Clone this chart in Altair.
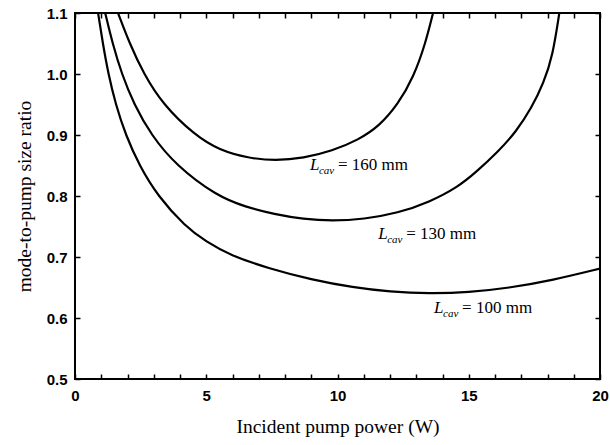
import altair as alt
import pandas as pd

# Curve samples (x = incident pump power W, y = size ratio)
x100 = [0.88, 1.06, 1.27, 1.55, 1.93, 2.45, 3.15, 4.2, 5.0, 5.9, 7.4, 9.0, 10.6, 12.0, 13.5, 15.0, 16.5, 18.2, 20.0]
y100 = [1.10, 1.05, 1.00, 0.95, 0.90, 0.85, 0.80, 0.75, 0.725, 0.703, 0.681, 0.663, 0.650, 0.643, 0.640, 0.642, 0.649, 0.662, 0.681]

x130 = [1.15, 1.43, 1.78, 2.25, 2.9, 3.85, 5.4, 6.5, 7.6, 8.7, 9.8, 11.0, 12.3, 13.5, 14.6, 15.3, 16.1, 16.8, 17.4, 17.85, 18.2, 18.45]
y130 = [1.10, 1.05, 1.00, 0.95, 0.90, 0.85, 0.80, 0.782, 0.770, 0.762, 0.759, 0.762, 0.772, 0.790, 0.815, 0.840, 0.872, 0.905, 0.945, 0.985, 1.03, 1.10]

x160 = [1.64, 2.08, 2.62, 3.35, 4.55, 5.5, 6.6, 7.65, 8.7, 9.8, 10.8, 11.6, 12.3, 12.9, 13.35, 13.64]
y160 = [1.10, 1.05, 1.00, 0.95, 0.90, 0.875, 0.862, 0.858, 0.862, 0.874, 0.892, 0.915, 0.950, 0.995, 1.05, 1.10]

lengths = ["100", "130", "160"]
label_x = [13.68, 11.55, 8.95]
label_y = [0.608, 0.729, 0.843]

x_ticks = list(range(0, 21))
y_ticks = [0.5, 0.6, 0.7, 0.8, 0.9, 1.0, 1.1]

rows = []
for name, xs, ys in [("100", x100, y100), ("130", x130, y130), ("160", x160, y160)]:
    for xv, yv in zip(xs, ys):
        rows.append({"L": name, "x": xv, "y": yv})
curves = pd.DataFrame(rows)

labels = pd.DataFrame({
    "L": lengths,
    "x": label_x,
    "y": label_y,
    "txt": ["= " + v + " mm" for v in lengths],
})

xscale = alt.Scale(domain=[0, 20], nice=False, zero=False)
yscale = alt.Scale(domain=[0.5, 1.1], nice=False, zero=False)

tick_in = {"expr": "-5"}

x_axis = alt.Axis(
    values=x_ticks,
    labelExpr="datum.value % 5 === 0 ? datum.label : ''",
    labelFont="Liberation Sans", labelFontWeight="bold", labelFontSize=15,
    labelColor="black", labelPadding=14, labelFlush=False,
    tickSize=tick_in, tickColor="black", tickWidth=1.5,
    domain=False, grid=False,
    title="Incident pump power (W)", titleFont="Liberation Serif",
    titleFontWeight="normal", titleFontSize=19.5, titleColor="black", titlePadding=14,
)
y_axis = alt.Axis(
    values=y_ticks, format=".1f",
    labelFont="Liberation Sans", labelFontWeight="bold", labelFontSize=15,
    labelColor="black", labelPadding=13, labelFlush=False,
    tickSize=tick_in, tickColor="black", tickWidth=1.5,
    domain=False, grid=False,
    title="mode-to-pump size ratio", titleFont="Liberation Serif",
    titleFontWeight="normal", titleFontSize=19.5, titleColor="black", titlePadding=12,
)
x_top = alt.Axis(orient="top", values=x_ticks, labels=False, tickSize=tick_in,
                 tickColor="black", tickWidth=1.5, domain=False, grid=False, title=None)
y_right = alt.Axis(orient="right", values=y_ticks, labels=False, tickSize=tick_in,
                   tickColor="black", tickWidth=1.5, domain=False, grid=False, title=None)

lines = alt.Chart(curves).mark_line(
    color="black", strokeWidth=2.2, clip=True, interpolate="basis"
).encode(
    x=alt.X("x:Q", scale=xscale, axis=x_axis),
    y=alt.Y("y:Q", scale=yscale, axis=y_axis),
    detail="L:N",
)

frame_axes = alt.Chart(curves).mark_point(opacity=0).encode(
    x=alt.X("x:Q", scale=xscale, axis=x_top),
    y=alt.Y("y:Q", scale=yscale, axis=y_right),
)

base = alt.Chart(labels).encode(
    x=alt.X("x:Q", scale=xscale, axis=None),
    y=alt.Y("y:Q", scale=yscale, axis=None),
)
t_L = base.mark_text(text="L", font="Liberation Serif", fontStyle="italic",
                     fontSize=17, align="left", baseline="alphabetic", color="black")
t_sub = base.mark_text(text="cav", font="Liberation Serif", fontStyle="italic",
                       fontSize=11, align="left", baseline="alphabetic", color="black",
                       dx=9, dy=4)
t_rest = base.mark_text(font="Liberation Serif", fontSize=17, align="left",
                        baseline="alphabetic", color="black", dx=28).encode(text="txt:N")

chart = alt.layer(lines, frame_axes, t_L, t_sub, t_rest).resolve_axis(
    x="independent", y="independent"
).properties(
    width=525, height=366,
    autosize=alt.AutoSizeParams(type="none"),
    padding={"left": 75, "top": 13, "right": 10, "bottom": 66},
).configure_view(stroke="black", strokeWidth=2)

chart.save("out.html", embed_options={"renderer": "svg", "actions": False})
